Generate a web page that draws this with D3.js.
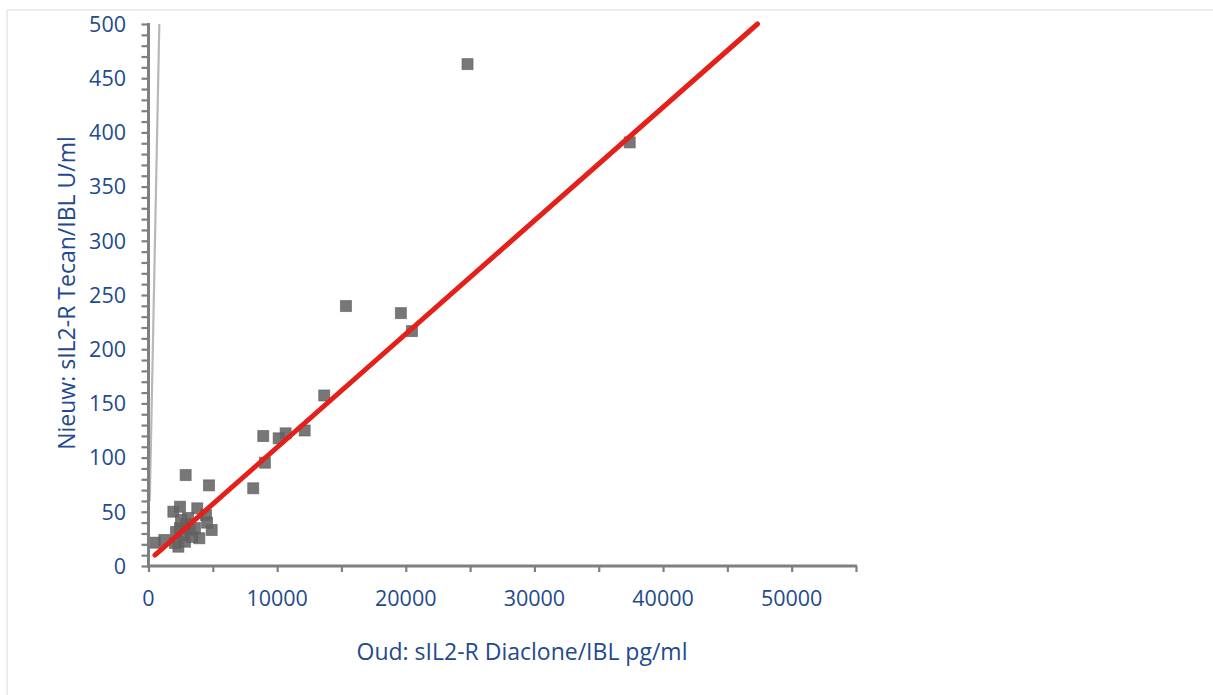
<!DOCTYPE html>
<html>
<head>
<meta charset="utf-8">
<script src="https://cdn.jsdelivr.net/npm/d3@7/dist/d3.min.js"></script>
<style>
  html, body { margin: 0; padding: 0; background: #fff; }
  svg { display: block; }
  text { font-family: "Open Sans", "Noto Sans", sans-serif; fill: #234a8e; }
</style>
</head>
<body>
<svg id="chart" width="1213" height="695"></svg>
<script>
// ---- data ----
const oudValues = [24800, 37410, 15350, 19620, 20480, 13660, 12140, 10660, 10120, 8920,
                   9050, 8140, 2890, 4700, 1930, 2450, 3790, 4470, 4910, 505,
                   1230, 2320, 3950, 2060, 2840, 2450, 2910, 3230, 2680, 3380,
                   2140, 3610, 3070, 2530, 4550];
const nieuwValues = [463, 390.8, 239.8, 233.3, 216.7, 157.3, 125, 122.4, 117.8, 119.9,
                     95.3, 71.7, 83.9, 74.4, 50.1, 54.7, 53.2, 47, 33.2, 21.5,
                     24, 17.8, 25.6, 21.2, 22.4, 35, 38.7, 33.2, 28.6, 26.8,
                     31.4, 35, 44.3, 42.4, 40];
const fitLineX = [500, 47340];
const fitLineY = [10.1, 500];
const refLineX = [100, 840];
const refLineY = [60, 500];
const xTicks = [0, 10000, 20000, 30000, 40000, 50000];
const yTicks = [0, 50, 100, 150, 200, 250, 300, 350, 400, 450, 500];
const xDomain = [0, 55000];
const yDomain = [0, 500];
const xTitle = "Oud: sIL2-R Diaclone/IBL pg/ml";
const yTitle = "Nieuw: sIL2-R Tecan/IBL U/ml";

// ---- drawing ----
const svg = d3.select("#chart");
const x = d3.scaleLinear().domain(xDomain).range([148.5, 856]);
const y = d3.scaleLinear().domain(yDomain).range([566, 24]);

// frame (light border top and left)
svg.append("line").attr("x1", 7).attr("x2", 1213).attr("y1", 10).attr("y2", 10)
  .attr("stroke", "#ececec").attr("stroke-width", 2);
svg.append("line").attr("x1", 7).attr("x2", 7).attr("y1", 10).attr("y2", 695)
  .attr("stroke", "#ececec").attr("stroke-width", 2);

// reference (gray) line
svg.append("line")
  .attr("x1", x(refLineX[0])).attr("y1", y(refLineY[0]))
  .attr("x2", x(refLineX[1])).attr("y2", y(refLineY[1]))
  .attr("stroke", "#b8b8b8").attr("stroke-width", 2.2);

// points
const pts = oudValues.map((v, i) => [v, nieuwValues[i]]);
const sz = 11;
svg.append("g").selectAll("rect").data(pts).join("rect")
  .attr("x", d => x(d[0]) - sz / 2)
  .attr("y", d => y(d[1]) - sz / 2)
  .attr("width", sz).attr("height", sz)
  .attr("fill", "#646464").attr("fill-opacity", 0.88)
  .attr("stroke", "#5a5a5a").attr("stroke-opacity", 0.6).attr("stroke-width", 1);

// fit (red) line
svg.append("line")
  .attr("x1", x(fitLineX[0])).attr("y1", y(fitLineY[0]))
  .attr("x2", x(fitLineX[1])).attr("y2", y(fitLineY[1]))
  .attr("stroke", "#e4201b").attr("stroke-width", 5).attr("stroke-linecap", "round");

// y axis
const yAxisG = svg.append("g").attr("transform", `translate(${x(0)},0)`);
yAxisG.call(d3.axisLeft(y).tickValues(d3.range(0, 501, 10)).tickSize(7).tickFormat(""));
yAxisG.selectAll(".tick line").attr("stroke", "#7f7f7f").attr("stroke-width", 2.2);
yAxisG.select(".domain").remove();
yAxisG.append("line").attr("x1", 0).attr("x2", 0).attr("y1", y(500) - 1).attr("y2", y(0) + 1.5)
  .attr("stroke", "#7f7f7f").attr("stroke-width", 3);
svg.append("g").selectAll("text").data(yTicks).join("text")
  .attr("x", 126).attr("y", d => y(d)).attr("dy", "0.36em")
  .attr("text-anchor", "end").attr("font-size", 21.5).text(d => d);

// x axis
const xAxisG = svg.append("g").attr("transform", `translate(0,${y(0)})`);
xAxisG.call(d3.axisBottom(x).tickValues(d3.range(0, 55001, 5000)).tickSize(6).tickFormat(""));
xAxisG.selectAll(".tick line").attr("stroke", "#7f7f7f").attr("stroke-width", 2.2);
xAxisG.select(".domain").remove();
xAxisG.append("line").attr("x1", x(0) - 1.5).attr("x2", x(55000) + 1).attr("y1", 0).attr("y2", 0)
  .attr("stroke", "#7f7f7f").attr("stroke-width", 3);
svg.append("g").selectAll("text").data(xTicks).join("text")
  .attr("x", d => x(d)).attr("y", 606)
  .attr("text-anchor", "middle").attr("font-size", 21.5).text(d => d);

// titles
svg.append("text").attr("x", 522).attr("y", 660).attr("text-anchor", "middle")
  .attr("font-size", 23).text(xTitle);
svg.append("text").attr("transform", `translate(75,293) rotate(-90)`)
  .attr("text-anchor", "middle").attr("font-size", 23).text(yTitle);
</script>
</body>
</html>
